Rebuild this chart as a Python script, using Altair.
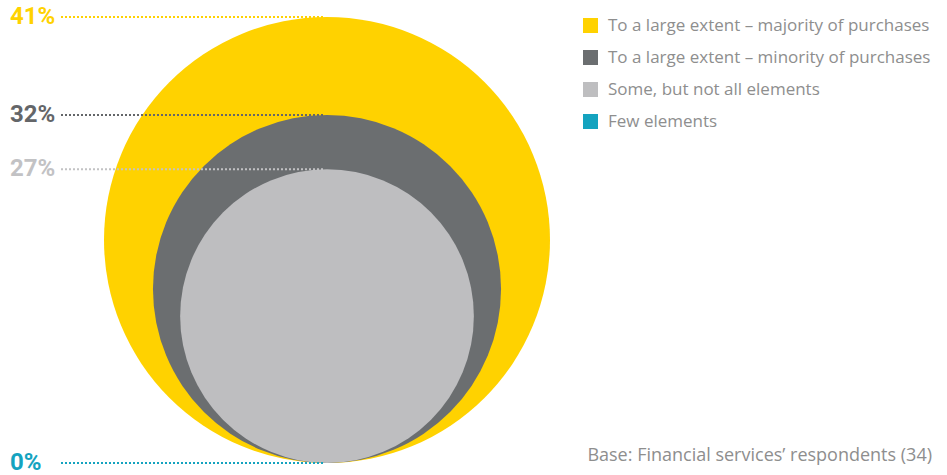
import altair as alt
import pandas as pd

categories = [
    "To a large extent – majority of purchases",
    "To a large extent – minority of purchases",
    "Some, but not all elements",
    "Few elements",
]
values = [41, 32, 27, 0]
labels = ["41%", "32%", "27%", "0%"]
colors = ["#FFD200", "#6B6E70", "#BEBEC0", "#14A3BF"]
label_colors = ["#FFD200", "#646669", "#C2C2C4", "#14A3BF"]
base_note = ["Base: Financial services’ respondents (34)"]

df = pd.DataFrame({
    "cat": categories,
    "value": values,
    "half": [v / 2 for v in values],
    "label": labels,
    "lcolor": label_colors,
})

Y_TOP = 17
Y_BOT = 463
DIAM = Y_BOT - Y_TOP
MAXV = max(values)

yscale = alt.Scale(domain=[0, MAXV], range=[Y_BOT, Y_TOP])
color = alt.Color(
    "cat:N",
    scale=alt.Scale(domain=categories, range=colors),
    legend=alt.Legend(
        title=None,
        orient="none",
        legendX=582,
        legendY=17,
        symbolType="square",
        symbolSize=225,
        symbolStrokeWidth=0,
        symbolOpacity=1,
        labelFontSize=17,
        labelFont="Open Sans",
        labelColor="#8E8E8E",
        labelOffset=9,
        rowPadding=14,
        labelLimit=400,
        padding=0,
    ),
    sort=categories,
)

base = alt.Chart(df)

circles = base.mark_circle(opacity=1, strokeWidth=0).encode(
    x=alt.value(327),
    y=alt.Y("half:Q", scale=yscale, axis=None),
    size=alt.Size(
        "value:Q",
        scale=alt.Scale(type="pow", exponent=2, domain=[0, MAXV], range=[0, DIAM * DIAM]),
        legend=None,
    ),
    color=color,
)

rules = base.mark_rule(strokeDash=[2, 2], strokeWidth=2).encode(
    x=alt.value(61),
    x2=alt.value(323),
    y=alt.Y("value:Q", scale=yscale, axis=None),
    color=alt.Color("lcolor:N", scale=None),
)

texts = base.mark_text(
    align="left", baseline="middle", font="Roboto", fontWeight="bold", fontSize=24, dy=0
).encode(
    x=alt.value(10),
    y=alt.Y("value:Q", scale=yscale, axis=None),
    text="label:N",
    color=alt.Color("lcolor:N", scale=None),
)

note = alt.Chart(pd.DataFrame({"t": base_note})).mark_text(
    align="right", baseline="alphabetic", font="Open Sans", fontSize=18, color="#8E8E8E"
).encode(x=alt.value(932), y=alt.value(461), text="t:N")

chart = alt.layer(circles, rules, texts, note).properties(
    width=947, height=475, padding=0, autosize=alt.AutoSizeParams(type="none")
).configure_view(stroke=None)

chart.save("out.html", embed_options={"renderer": "svg", "actions": False})
